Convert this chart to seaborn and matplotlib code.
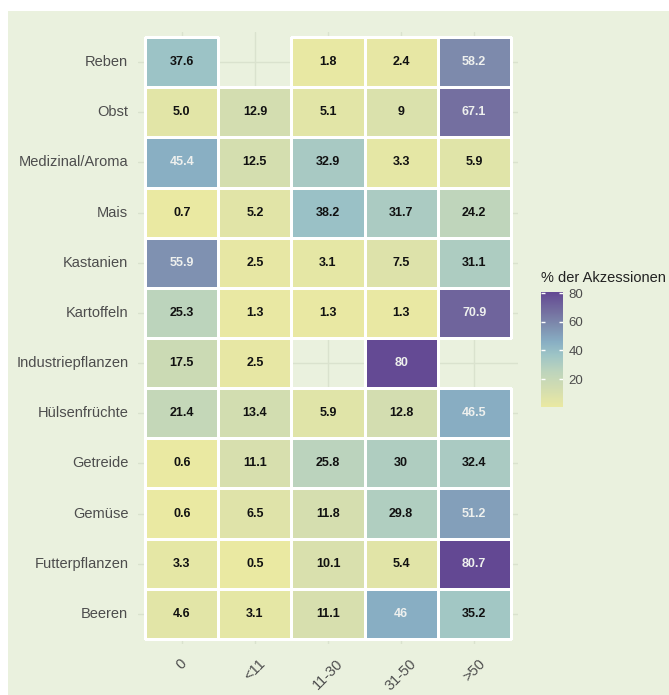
import numpy as np
import pandas as pd
import matplotlib
matplotlib.use("Agg")
import matplotlib.pyplot as plt
from matplotlib.colors import LinearSegmentedColormap
from matplotlib.patches import Rectangle
import seaborn as sns

# Daten: Anteil der Akzessionen (%) je Kulturgruppe und Klasse
kulturen = ["Reben", "Obst", "Medizinal/Aroma", "Mais", "Kastanien", "Kartoffeln",
            "Industriepflanzen", "Hülsenfrüchte", "Getreide", "Gemüse",
            "Futterpflanzen", "Beeren"]
klassen = ["0", "<11", "11-30", "31-50", ">50"]

werte_0 = [37.6, 5.0, 45.4, 0.7, 55.9, 25.3, 17.5, 21.4, 0.6, 0.6, 3.3, 4.6]
werte_lt11 = [np.nan, 12.9, 12.5, 5.2, 2.5, 1.3, 2.5, 13.4, 11.1, 6.5, 0.5, 3.1]
werte_11_30 = [1.8, 5.1, 32.9, 38.2, 3.1, 1.3, np.nan, 5.9, 25.8, 11.8, 10.1, 11.1]
werte_31_50 = [2.4, 9, 3.3, 31.7, 7.5, 1.3, 80, 12.8, 30, 29.8, 5.4, 46]
werte_gt50 = [58.2, 67.1, 5.9, 24.2, 31.1, 70.9, np.nan, 46.5, 32.4, 51.2, 80.7, 35.2]

# Beschriftungen wie im Original (z.B. "5.0", "9", "80")
labels = [
    ["37.6", "", "1.8", "2.4", "58.2"],
    ["5.0", "12.9", "5.1", "9", "67.1"],
    ["45.4", "12.5", "32.9", "3.3", "5.9"],
    ["0.7", "5.2", "38.2", "31.7", "24.2"],
    ["55.9", "2.5", "3.1", "7.5", "31.1"],
    ["25.3", "1.3", "1.3", "1.3", "70.9"],
    ["17.5", "2.5", "", "80", ""],
    ["21.4", "13.4", "5.9", "12.8", "46.5"],
    ["0.6", "11.1", "25.8", "30", "32.4"],
    ["0.6", "6.5", "11.8", "29.8", "51.2"],
    ["3.3", "0.5", "10.1", "5.4", "80.7"],
    ["4.6", "3.1", "11.1", "46", "35.2"],
]

df = pd.DataFrame({"0": werte_0, "<11": werte_lt11, "11-30": werte_11_30,
                   "31-50": werte_31_50, ">50": werte_gt50}, index=kulturen)[klassen]

bg = "#EAF1DE"
grau = "#4D4D4D"
vmin, vmax = 0.5, 80.7

# Farbverlauf (blass, viridis-ähnlich)
stops = [(0.5, "#EAE9A2"), (13, "#D3DDB0"), (25, "#BDD4BC"), (37, "#9DC4C6"),
         (46, "#88AEC3"), (58, "#7D8BAD"), (67, "#7470A0"), (80.7, "#634893")]
cmap = LinearSegmentedColormap.from_list(
    "akz", [((v - vmin) / (vmax - vmin), c) for v, c in stops])

sns.set_theme(style="white")
plt.rcParams["font.family"] = ["Liberation Sans", "DejaVu Sans"]

fig = plt.figure(figsize=(6.69, 6.95), dpi=100, facecolor="white")
fig.patches.append(Rectangle((8 / 669, 0), 1, 1 - 11 / 695, transform=fig.transFigure,
                             facecolor=bg, edgecolor="none", zorder=-10))

ax = fig.add_axes([138 / 669, 1 - 644 / 695, 380 / 669, 612 / 695])
cax = fig.add_axes([541 / 669, 1 - 407 / 695, 22 / 669, 115 / 695])
ax.set_facecolor("none")
ax.set_axisbelow(True)

sns.heatmap(df, ax=ax, cbar_ax=cax, cmap=cmap, vmin=vmin, vmax=vmax,
            annot=np.array(labels), fmt="", linewidths=0.9, linecolor="white",
            annot_kws={"fontsize": 9, "fontweight": "bold",
                       "family": ["Liberation Sans Narrow", "Liberation Sans"]},
            cbar_kws={"ticks": [20, 40, 60, 80]})

# leere Zellen ohne weissen Rand
mesh = ax.collections[0]
leer = df.isna().to_numpy().ravel()
mesh.set_edgecolor([(1, 1, 1, 0) if m else (1, 1, 1, 1) for m in leer])

for t in ax.texts:
    txt = t.get_text()
    if txt and float(txt) > 40:
        t.set_color("#EEF0EE")
    else:
        t.set_color("#111111")

ax.set_xlim(-0.1, 5.1)
ax.set_ylim(12.1, -0.1)
ax.grid(True, color="#DAE2CE", linewidth=1.0)
for s in ax.spines.values():
    s.set_visible(False)
ax.set_xlabel("")
ax.set_ylabel("")
ax.tick_params(axis="both", length=4, width=0.8, color="#D0D6C6", labelcolor=grau,
               labelsize=10.5, pad=3)
ax.tick_params(axis="x", pad=5)
plt.setp(ax.get_yticklabels(), rotation=0)
plt.setp(ax.get_xticklabels(), rotation=45, ha="center", va="top")

# Farblegende
cb = ax.collections[0].colorbar
cb.outline.set_visible(False)
cax.tick_params(length=0, labelsize=9.5, labelcolor=grau, pad=4)
cax.hlines([20, 40, 60, 80], 0, 0.2, color="white", linewidth=1)
cax.hlines([20, 40, 60, 80], 0.8, 1, color="white", linewidth=1)
fig.text(541 / 669, 1 - 278 / 695, "% der Akzessionen", ha="left", va="center",
         fontsize=10.5, color="#222222")

fig.savefig("out.png", dpi=100, facecolor="white")
